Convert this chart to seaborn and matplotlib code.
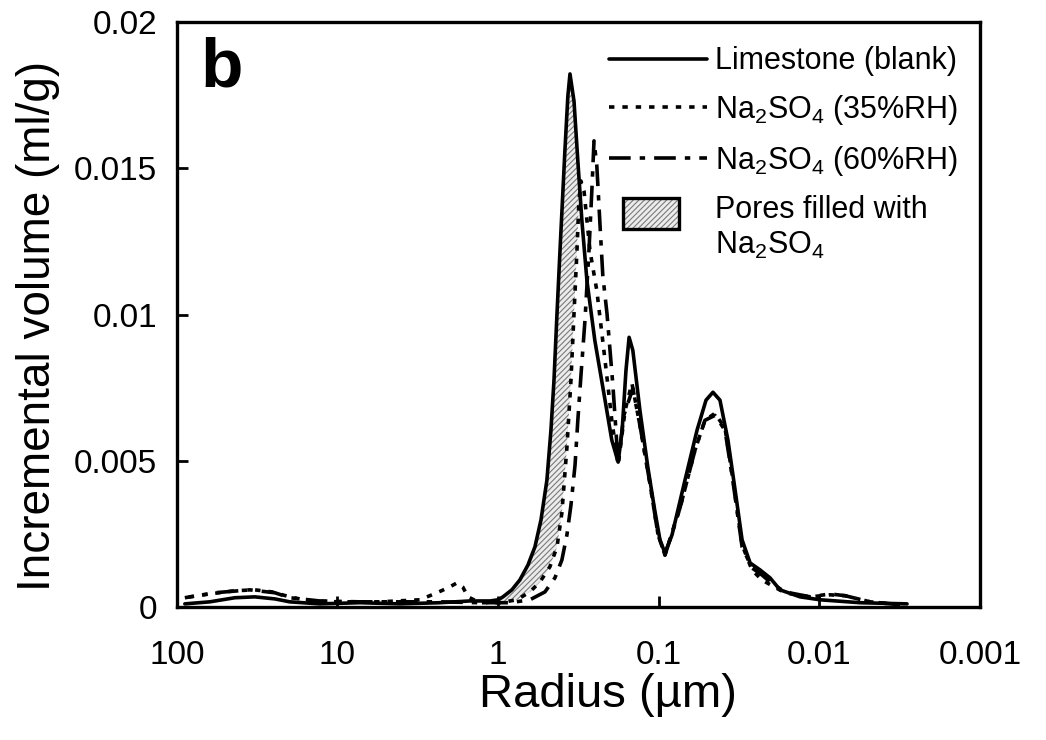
import seaborn as sns
import matplotlib.pyplot as plt
import matplotlib.patches as mpatches
from matplotlib.lines import Line2D
from matplotlib.legend_handler import HandlerBase
import numpy as np

sns.set_style('ticks')
plt.rcParams['font.family'] = ['Liberation Sans', 'DejaVu Sans']
plt.rcParams['mathtext.fontset'] = 'custom'
plt.rcParams['mathtext.rm'] = 'Liberation Sans'
plt.rcParams['mathtext.it'] = 'Liberation Sans:italic'
plt.rcParams['hatch.linewidth'] = 0.8
plt.rcParams['text.color'] = 'black'
plt.rcParams['axes.labelcolor'] = 'black'

# Limestone (blank) - radius in um, incremental volume in ml/g
blank_r = [89.1, 62.3, 43.5, 32.7, 24.5, 19.8, 12.9, 7.25, 4.09, 2.30, 1.50, 1.12,
           1.00, 0.933, 0.821, 0.732, 0.652, 0.590, 0.541, 0.497, 0.469, 0.449,
           0.430, 0.412, 0.384, 0.368, 0.357, 0.337, 0.319, 0.301, 0.280, 0.250,
           0.216, 0.196, 0.179, 0.169, 0.160, 0.153, 0.145, 0.131, 0.117, 0.106,
           0.0983, 0.0915, 0.0827, 0.0687, 0.0578, 0.0508, 0.0460, 0.0416, 0.0371,
           0.0335, 0.0303, 0.0270, 0.0234, 0.0203, 0.0176, 0.0132, 0.00991,
           0.00559, 0.00285]
blank_v = [0.0001, 0.00017, 0.00031, 0.00034, 0.00027, 0.00017, 0.0001, 0.00014,
           0.0001, 0.00014, 0.0002, 0.0002, 0.00024, 0.00034, 0.00058, 0.00092,
           0.00143, 0.00205, 0.00297, 0.00433, 0.00604, 0.00775, 0.01003, 0.01218,
           0.0156, 0.01747, 0.01823, 0.0173, 0.01526, 0.01321, 0.01116, 0.00911,
           0.00707, 0.0057, 0.00495, 0.00604, 0.00809, 0.00922, 0.00877, 0.00672,
           0.00478, 0.00331, 0.00229, 0.00184, 0.00246, 0.00433, 0.00604, 0.00707,
           0.00734, 0.00707, 0.0057, 0.004, 0.00229, 0.0015, 0.00126, 0.00099,
           0.00058, 0.00034, 0.00024, 0.00014, 0.0001]

# Na2SO4 (35%RH)
rh35_r = [91.8, 83.0, 62.3, 43.5, 32.7, 25.6, 19.8, 14.9, 9.66, 5.44, 3.07, 2.40,
          2.00, 1.80, 1.66, 1.54, 1.30, 0.974, 0.764, 0.634, 0.549, 0.476, 0.430,
          0.401, 0.373, 0.352, 0.337, 0.323, 0.314, 0.305, 0.292, 0.268, 0.243,
          0.216, 0.196, 0.179, 0.162, 0.147, 0.131, 0.113, 0.101, 0.0915, 0.0738,
          0.0595, 0.0516, 0.0447, 0.0387, 0.0345, 0.0303, 0.0263, 0.0228, 0.0197,
          0.0164, 0.0114, 0.00859, 0.00693, 0.00484, 0.00315]
rh35_v = [0.00024, 0.00034, 0.00044, 0.00055, 0.00058, 0.00051, 0.00034, 0.0002,
          0.00017, 0.00017, 0.00024, 0.00048, 0.00068, 0.00082, 0.00068, 0.00034,
          0.00014, 0.00014, 0.00024, 0.00051, 0.00085, 0.00137, 0.00205, 0.00321,
          0.00546, 0.00775, 0.01003, 0.01218, 0.01389, 0.01457, 0.01423, 0.01218,
          0.01082, 0.00843, 0.00638, 0.00485, 0.00672, 0.00765, 0.00621, 0.00416,
          0.00246, 0.00177, 0.00338, 0.00536, 0.00638, 0.00662, 0.00611, 0.00433,
          0.00212, 0.00126, 0.00092, 0.00072, 0.00048, 0.00034, 0.00041, 0.00038,
          0.00017, 0.00007]

# Na2SO4 (60%RH)
rh60_r = [89.1, 58.0, 35.1, 24.5, 19.8, 12.9, 7.25, 4.09, 2.30, 1.30, 0.844, 0.634,
          0.511, 0.443, 0.401, 0.373, 0.352, 0.332, 0.319, 0.305, 0.288, 0.272,
          0.261, 0.253, 0.243, 0.232, 0.223, 0.210, 0.193, 0.179, 0.165, 0.145,
          0.131, 0.113, 0.101, 0.0915, 0.0738, 0.0595, 0.0516, 0.0447, 0.0387,
          0.0345, 0.0303, 0.0263, 0.0228, 0.0197, 0.0164, 0.0114, 0.00859,
          0.00693, 0.00484, 0.00315]
rh60_v = [0.00031, 0.00048, 0.00058, 0.00048, 0.00031, 0.0002, 0.00017, 0.00017,
          0.00017, 0.00014, 0.00014, 0.00024, 0.00051, 0.00099, 0.0016, 0.00246,
          0.00348, 0.00485, 0.00638, 0.00792, 0.0098, 0.01218, 0.01423, 0.01594,
          0.01509, 0.01304, 0.01133, 0.01003, 0.00758, 0.00491, 0.00655, 0.00747,
          0.00621, 0.00416, 0.00246, 0.00177, 0.00338, 0.00536, 0.00638, 0.00655,
          0.00604, 0.00427, 0.00205, 0.00133, 0.00109, 0.00079, 0.00051, 0.00034,
          0.00044, 0.00038, 0.00017, 0.00007]

# pores filled: between blank and 35%RH on the coarse side of the main peak
fill_r_min = 0.31
fill_r_max = 1.0

x_ticks = [100, 10, 1, 0.1, 0.01, 0.001]
x_labels = ['100', '10', '1', '0.1', '0.01', '0.001']
y_ticks = [0, 0.005, 0.01, 0.015, 0.02]
y_labels = ['0', '0.005', '0.01', '0.015', '0.02']

dotted = (0, (1.5, 2.2))
dashdot = (0, (6, 2.5, 1.5, 2.5))
lw = 2.6

fig = plt.figure(figsize=(10.46, 7.40), dpi=100)
ax = fig.add_axes([0.169, 0.180, 0.768, 0.790])

# hatched area
br, bv = np.array(blank_r), np.array(blank_v)
dr, dv = np.array(rh35_r), np.array(rh35_v)
mb = (br >= fill_r_min) & (br <= fill_r_max)
md = (dr >= fill_r_min) & (dr <= fill_r_max)
ax.fill(np.r_[br[mb], dr[md][::-1]], np.r_[bv[mb], dv[md][::-1]],
        facecolor='#ececec', edgecolor='#7a7a7a', hatch='//////', linewidth=0, zorder=1)

sns.lineplot(x=blank_r, y=blank_v, ax=ax, color='black', lw=lw, estimator=None, zorder=3)
sns.lineplot(x=rh35_r, y=rh35_v, ax=ax, color='black', lw=lw, linestyle=dotted,
             estimator=None, zorder=3)
sns.lineplot(x=rh60_r, y=rh60_v, ax=ax, color='black', lw=lw, linestyle=dashdot,
             estimator=None, zorder=3)

ax.set_xscale('log')
ax.set_xlim(100, 0.001)
ax.set_ylim(0, 0.02)
ax.set_xticks(x_ticks)
ax.set_xticklabels(x_labels)
ax.minorticks_off()
ax.set_yticks(y_ticks)
ax.set_yticklabels(y_labels)
ax.tick_params(direction='in', length=8, width=2, labelsize=24, colors='black')
ax.tick_params(axis='x', pad=24)
ax.tick_params(axis='y', pad=14)
for s in ax.spines.values():
    s.set_linewidth(2.4)
    s.set_color('black')

ax.set_xlabel('Radius (µm)', fontsize=34, labelpad=1, x=0.537)
ax.set_ylabel('Incremental volume (ml/g)', fontsize=33, labelpad=10, y=0.48)

ax.text(0.03, 0.975, 'b', transform=ax.transAxes, fontsize=50, fontweight='bold',
        va='top', ha='left')


class HatchBox(HandlerBase):
    def create_artists(self, legend, orig_handle, xdescent, ydescent, width, height,
                       fontsize, trans):
        x0 = -xdescent + width * 0.14
        w = width * 0.57
        y0 = -ydescent + height * 0.5
        h = height * 1.45
        fill = mpatches.Rectangle((x0, y0), w, h, facecolor='#ececec', edgecolor='#7a7a7a',
                                  hatch='//////', linewidth=0, transform=trans)
        box = mpatches.Rectangle((x0, y0), w, h, facecolor='none', edgecolor='black',
                                 linewidth=2.4, transform=trans)
        return [fill, box]


pore_handle = mpatches.Patch(label='pores')
handles = [Line2D([], [], color='black', lw=lw),
           Line2D([], [], color='black', lw=lw, linestyle=dotted),
           Line2D([], [], color='black', lw=lw, linestyle=dashdot),
           pore_handle]
labels = ['Limestone (blank)', 'Na$_2$SO$_4$ (35%RH)', 'Na$_2$SO$_4$ (60%RH)',
          'Pores filled with\nNa$_2$SO$_4$']
ax.legend(handles, labels, loc='upper right', bbox_to_anchor=(0.995, 0.99),
          frameon=False, fontsize=22, handlelength=3.2, handletextpad=0.25,
          labelspacing=0.55, borderpad=0.1, labelcolor='black',
          handler_map={pore_handle: HatchBox()})

fig.savefig('out.png', dpi=100)
